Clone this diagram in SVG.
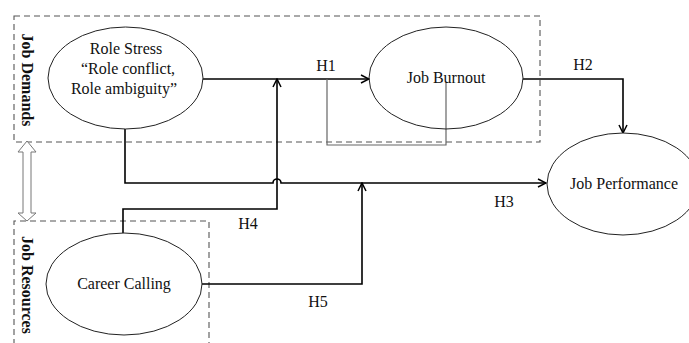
<svg xmlns="http://www.w3.org/2000/svg" width="689" height="343" viewBox="0 0 689 343">
<defs>
<marker id="arr" viewBox="0 0 10 10" refX="9" refY="5" markerWidth="10" markerHeight="10" markerUnits="userSpaceOnUse" orient="auto">
<path d="M1,1 L9,5 L1,9" fill="none" stroke="#000" stroke-width="1.5"/>
</marker>
<style>
text{font-family:"Liberation Serif","Times New Roman",serif;font-size:16px;fill:#111}
.lbl{text-anchor:middle}
.grp{font-weight:bold;font-size:16px}
.box{fill:none;stroke:#555;stroke-width:1.1;stroke-dasharray:6,4}
.node{fill:#fff;stroke:#222;stroke-width:1}
.c{fill:none;stroke:#000;stroke-width:1.6}
.thin{fill:none;stroke:#666;stroke-width:1.2}
</style>
</defs>
<rect width="689" height="343" fill="#fff"/>
<g id="job-demands">
<rect class="box" x="14" y="16" width="526" height="126"/>
<text class="grp lbl" transform="translate(22,80) rotate(90)">Job Demands</text>
</g>
<g id="job-resources">
<path class="box" d="M14,345 V221 H209 V345"/>
<text class="grp" transform="translate(22,236) rotate(90)">Job Resources</text>
</g>
<g id="demands-resources-arrow">
<path d="M27,141 L36,152 L31,152 L31,213 L36,213 L27,221 L18,213 L23,213 L23,152 L18,152 Z" fill="#fff" stroke="#777" stroke-width="1"/>
</g>
<g id="connectors">
<path class="c" d="M203,79 H369" marker-end="url(#arr)"/>
<path class="c" d="M523,79 H623 V133" marker-end="url(#arr)"/>
<path class="c" d="M125,129 V183 H273 A4,4 0 0 1 281,183 H546" marker-end="url(#arr)"/>
<path class="c" d="M123,233 V209 H277 V79" marker-end="url(#arr)"/>
<path class="c" d="M202,284 H362 V183" marker-end="url(#arr)"/>
<path class="thin" d="M327,79 V145 H446 V83"/>
</g>
<g id="role-stress">
<ellipse class="node" cx="125.5" cy="78" rx="77.5" ry="51"/>
<text class="lbl" x="126" y="54">Role Stress</text>
<text class="lbl" x="128" y="74">“Role conflict,</text>
<text class="lbl" x="124" y="94">Role ambiguity”</text>
</g>
<g id="job-burnout">
<ellipse class="node" cx="446" cy="78" rx="77" ry="51" style="fill:none"/>
<text class="lbl" x="446" y="83">Job Burnout</text>
</g>
<g id="job-performance">
<ellipse class="node" cx="623" cy="184" rx="76" ry="51"/>
<text class="lbl" x="624" y="189">Job Performance</text>
</g>
<g id="career-calling">
<ellipse class="node" cx="124" cy="284" rx="78" ry="51"/>
<text class="lbl" x="124" y="289">Career Calling</text>
</g>
<g id="labels">
<text class="lbl" x="326" y="71">H1</text>
<text class="lbl" x="583" y="70">H2</text>
<text class="lbl" x="504" y="207">H3</text>
<text class="lbl" x="248" y="229">H4</text>
<text class="lbl" x="318" y="307">H5</text>
</g>
</svg>
